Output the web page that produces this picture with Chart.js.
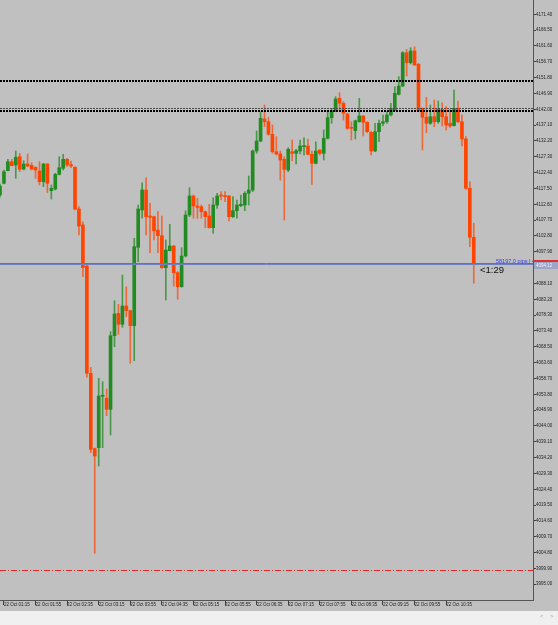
<!DOCTYPE html>
<html>
<head>
<meta charset="utf-8">
<script src="https://cdn.jsdelivr.net/npm/chart.js@4.4.1/dist/chart.umd.min.js"></script>
<style>
  html, body { margin: 0; padding: 0; background: #c0c0c0; }
  #chart { display: block; }
</style>
</head>
<body>
<canvas id="chart" width="558" height="625"></canvas>
<script>
// 5 minute candles, the first one is 22 Oct 01:10
const opens = [
  4115.48, 4119.10, 4123.00, 4125.78, 4124.76, 4127.33, 4123.52, 4125.07, 4124.67, 4124.05,
  4122.91, 4119.59, 4125.07, 4116.81, 4117.33, 4121.88, 4123.74, 4126.53, 4124.86, 4124.05,
  4111.14, 4106.19, 4093.50, 4060.29, 4036.96, 4037.27, 4053.18, 4052.56, 4049.15, 4071.93,
  4078.86, 4075.46, 4081.12, 4079.67, 4075.03, 4099.29, 4110.83, 4117.02, 4108.98, 4108.76,
  4104.64, 4102.88, 4092.98, 4098.24, 4099.69, 4091.43, 4087.10, 4096.60, 4109.29, 4115.17,
  4112.07, 4111.86, 4110.31, 4108.98, 4105.36, 4112.38, 4115.48, 4115.17, 4115.17, 4108.76,
  4110.62, 4112.17, 4112.38, 4116.00, 4117.02, 4129.10, 4132.19, 4139.00, 4138.16, 4134.26,
  4128.88, 4128.17, 4126.53, 4123.21, 4128.88, 4128.38, 4129.10, 4130.43, 4130.64, 4128.07,
  4125.29, 4129.40, 4128.38, 4133.03, 4139.40, 4141.48, 4145.41, 4143.86, 4140.55, 4136.43,
  4135.38, 4138.16, 4139.93, 4137.98, 4134.88, 4129.10, 4135.07, 4137.67, 4138.16, 4140.24,
  4141.78, 4146.64, 4149.21, 4159.52, 4156.42, 4160.05, 4155.93, 4142.31, 4139.53, 4137.67,
  4139.71, 4138.16, 4142.00, 4139.71, 4137.67, 4136.93, 4142.31, 4138.16, 4132.81, 4117.55,
  4102.39
];
const highs = [
  4118.88, 4123.21, 4126.53, 4126.53, 4129.10, 4128.38, 4126.09, 4128.17, 4125.47, 4124.24,
  4125.78, 4125.29, 4125.20, 4118.57, 4122.19, 4127.33, 4128.07, 4126.84, 4126.00, 4124.24,
  4111.86, 4107.21, 4093.81, 4062.15, 4037.17, 4058.75, 4057.69, 4055.43, 4073.17, 4082.76,
  4081.65, 4090.72, 4087.10, 4079.88, 4102.08, 4112.38, 4119.28, 4120.83, 4112.91, 4108.98,
  4110.31, 4108.98, 4101.55, 4106.41, 4099.90, 4091.74, 4099.17, 4110.62, 4117.74, 4115.48,
  4114.46, 4112.38, 4110.53, 4112.60, 4114.64, 4116.00, 4116.50, 4116.50, 4115.30, 4114.95,
  4113.93, 4115.48, 4116.50, 4121.36, 4129.40, 4135.29, 4141.26, 4143.33, 4139.53, 4137.14,
  4133.52, 4129.10, 4127.33, 4130.12, 4132.50, 4129.62, 4132.50, 4133.21, 4132.72, 4129.10,
  4131.97, 4129.50, 4135.59, 4141.57, 4142.31, 4145.90, 4147.14, 4144.35, 4140.76, 4138.16,
  4138.69, 4145.41, 4140.05, 4138.16, 4135.07, 4137.67, 4138.69, 4140.24, 4141.26, 4143.86,
  4149.00, 4152.09, 4159.83, 4160.57, 4161.07, 4161.38, 4156.24, 4142.45, 4145.72, 4143.33,
  4144.88, 4144.57, 4144.04, 4142.81, 4142.00, 4147.97, 4144.57, 4140.24, 4133.52, 4119.59,
  4106.72
];
const lows = [
  4114.86, 4118.88, 4122.91, 4124.45, 4120.65, 4122.69, 4123.21, 4124.24, 4123.21, 4120.65,
  4118.57, 4118.05, 4116.19, 4114.24, 4117.02, 4121.67, 4123.21, 4124.24, 4123.93, 4110.83,
  4103.10, 4090.19, 4059.06, 4035.72, 4004.58, 4031.60, 4037.27, 4047.17, 4041.20, 4068.53,
  4072.36, 4074.53, 4077.81, 4063.39, 4064.19, 4094.83, 4108.27, 4103.10, 4097.62, 4101.55,
  4097.62, 4092.79, 4082.98, 4098.15, 4087.31, 4083.20, 4086.91, 4096.29, 4108.76, 4108.27,
  4108.27, 4108.27, 4105.36, 4105.20, 4103.62, 4111.36, 4113.93, 4113.40, 4107.43, 4108.45,
  4108.27, 4111.86, 4110.62, 4112.38, 4116.50, 4128.38, 4131.97, 4136.62, 4134.05, 4128.38,
  4127.86, 4120.12, 4107.74, 4122.69, 4126.09, 4125.07, 4128.17, 4127.86, 4127.86, 4118.79,
  4125.07, 4127.86, 4126.31, 4132.81, 4137.67, 4141.26, 4141.78, 4138.69, 4135.81, 4132.50,
  4132.81, 4138.00, 4133.74, 4134.76, 4127.86, 4128.88, 4131.97, 4136.83, 4137.67, 4139.93,
  4141.57, 4146.43, 4149.00, 4152.31, 4156.02, 4155.60, 4141.26, 4129.40, 4134.76, 4137.36,
  4136.62, 4137.67, 4136.83, 4135.59, 4136.43, 4136.83, 4137.85, 4130.64, 4117.24, 4099.48,
  4088.15
];
const closes = [
  4118.26, 4122.69, 4125.78, 4124.55, 4127.15, 4123.43, 4125.07, 4124.45, 4123.52, 4123.21,
  4119.59, 4125.07, 4119.10, 4117.55, 4121.88, 4123.93, 4126.53, 4124.76, 4124.45, 4111.14,
  4105.88, 4092.98, 4060.29, 4036.77, 4034.70, 4053.27, 4053.36, 4049.15, 4071.93, 4078.65,
  4075.46, 4081.12, 4079.67, 4075.03, 4099.48, 4111.14, 4117.02, 4108.76, 4108.58, 4104.43,
  4102.88, 4092.98, 4098.45, 4099.69, 4091.43, 4087.10, 4096.60, 4109.29, 4115.17, 4112.07,
  4111.67, 4110.31, 4108.76, 4105.36, 4112.38, 4115.17, 4115.17, 4114.95, 4108.76, 4110.62,
  4112.38, 4112.60, 4116.00, 4117.02, 4129.10, 4132.19, 4139.22, 4138.16, 4134.26, 4128.88,
  4128.17, 4126.31, 4123.43, 4129.62, 4128.38, 4129.19, 4130.64, 4130.64, 4128.07, 4125.29,
  4129.10, 4128.38, 4133.03, 4139.40, 4141.48, 4145.19, 4143.86, 4140.76, 4136.12, 4136.12,
  4138.47, 4139.93, 4137.98, 4135.07, 4129.10, 4135.07, 4137.67, 4138.16, 4140.24, 4142.31,
  4146.95, 4149.21, 4159.52, 4156.42, 4160.05, 4155.71, 4141.48, 4139.53, 4137.67, 4139.71,
  4138.16, 4142.00, 4139.71, 4137.14, 4136.83, 4142.31, 4138.16, 4132.81, 4117.55, 4102.39,
  4094.12
];

// empty bars kept free on the right (chart shift)
const emptySlots = 15;

const timeLabels = [
  '22 Oct 01:15', '22 Oct 01:55', '22 Oct 02:35', '22 Oct 03:15', '22 Oct 03:55',
  '22 Oct 04:35', '22 Oct 05:15', '22 Oct 05:55', '22 Oct 06:35', '22 Oct 07:15',
  '22 Oct 07:55', '22 Oct 08:35', '22 Oct 09:15', '22 Oct 09:55', '22 Oct 10:35'
];
const priceTicks = [
  3995.00, 3999.90, 4004.80, 4009.70, 4014.60, 4019.50, 4024.40, 4029.30, 4034.20, 4039.10,
  4044.00, 4048.90, 4053.80, 4058.70, 4063.60, 4068.50, 4073.40, 4078.30, 4083.20, 4088.10,
  4093.00, 4097.90, 4102.80, 4107.70, 4112.60, 4117.50, 4122.40, 4127.30, 4132.20, 4137.10,
  4142.00, 4146.90, 4151.80, 4156.70, 4161.60, 4166.50, 4171.40
];
const priceMin = 3990.13;
const priceMax = 4175.83;

// horizontal lines drawn on the chart
const thickDotLevel = 4150.76;
const doubleLevels = [4142.25, 4141.47];
const dashDotLevel = 3999.41;
const askLevel = 4094.28;
const bidLevel = 4094.00;
const infoText = '58197.0 pips | 4';
const timerText = '<1:29';

const bullColor = '#228B22';
const bearColor = '#FF4500';

const n = opens.length + emptySlots;
const labels = [];
for (let i = 0; i < n; i++) {
    const k = (i - 1) / 8;
    labels.push(Number.isInteger(k) && k >= 0 && k < timeLabels.length ? timeLabels[k] : '');
}
const bodies = opens.map((o, i) => [o, closes[i]]);
const wicks = lows.map((l, i) => [l, highs[i]]);
const isUp = i => closes[i] >= opens[i];

// background, bottom strip
const backPlugin = {
    id: 'back',
    beforeDraw(chart) {
        const ctx = chart.ctx;
        ctx.save();
        ctx.fillStyle = '#c0c0c0';
        ctx.fillRect(0, 0, chart.width, chart.height);
        ctx.fillStyle = '#f0f0f0';
        ctx.fillRect(0, 611, chart.width, chart.height - 611);
        ctx.fillStyle = '#a8a8a8';
        ctx.font = '6px "Liberation Sans"';
        ctx.textBaseline = 'middle';
        ctx.fillText('<', 540, 616);
        ctx.fillText('>', 550, 616);
        ctx.restore();
    }
};

// levels, price line and texts
const linesPlugin = {
    id: 'lines',
    afterDraw(chart) {
        const ctx = chart.ctx;
        const y = chart.scales.y;
        const area = chart.chartArea;
        const py = v => Math.round(y.getPixelForValue(v));

        function hline(v, color, width, dash, off) {
            const p = py(v) + off;
            ctx.save();
            ctx.beginPath();
            ctx.strokeStyle = color;
            ctx.lineWidth = width;
            ctx.setLineDash(dash);
            ctx.moveTo(area.left, p);
            ctx.lineTo(area.right, p);
            ctx.stroke();
            ctx.restore();
        }

        hline(thickDotLevel, '#000000', 2, [2, 1], 0);
        hline(doubleLevels[0], '#4a4a4a', 1, [2, 1], 0.5);
        hline(doubleLevels[1], '#000000', 2, [2, 1], 0);
        hline(dashDotLevel, '#e02828', 1, [6, 2, 1, 2], 0.5);
        hline(bidLevel, '#7080c0', 1, [], 0.5);
        hline(askLevel, '#e04848', 1, [], 0.5);

        // info text on the ask line, cut at the axis
        ctx.save();
        ctx.beginPath();
        ctx.rect(area.left, area.top, area.right - area.left, area.bottom - area.top);
        ctx.clip();
        ctx.fillStyle = '#3a3aee';
        ctx.font = '5.5px "Liberation Sans"';
        ctx.textBaseline = 'middle';
        ctx.fillText(infoText, 496, py(askLevel) - 2);
        ctx.restore();

        // bar timer
        ctx.save();
        ctx.fillStyle = '#111111';
        ctx.font = '9.5px "Liberation Sans"';
        ctx.textBaseline = 'middle';
        ctx.fillText(timerText, 480, py(bidLevel) + 6);
        ctx.restore();

        // price box on the axis
        const last = closes[closes.length - 1];
        const pb = py(last);
        ctx.save();
        ctx.fillStyle = '#9ea6c6';
        ctx.fillRect(area.right + 1, pb - 2, chart.width - area.right - 1, 7);
        ctx.fillStyle = '#e03030';
        ctx.fillRect(area.right + 1, pb - 4, chart.width - area.right - 1, 2);
        ctx.fillStyle = '#eef0f8';
        ctx.font = '4.5px "Liberation Sans"';
        ctx.textBaseline = 'middle';
        ctx.fillText(last.toFixed(2), area.right + 3, pb + 1.5);
        ctx.restore();
    }
};

const ctx = document.getElementById('chart').getContext('2d');
new Chart(ctx, {
    type: 'bar',
    data: {
        labels: labels,
        datasets: [
            {
                label: 'body',
                data: bodies,
                order: 0,
                grouped: false,
                barThickness: 3,
                minBarLength: 1,
                borderWidth: 0,
                backgroundColor: c => isUp(c.dataIndex) ? bullColor : bearColor
            },
            {
                label: 'wick',
                data: wicks,
                order: 1,
                grouped: false,
                barThickness: 1,
                borderWidth: 0,
                backgroundColor: c => isUp(c.dataIndex) ? 'rgba(34,139,34,0.75)' : 'rgba(255,69,0,0.7)'
            }
        ]
    },
    options: {
        responsive: false,
        animation: false,
        layout: { padding: { left: 0, top: 0, right: 0, bottom: 14 } },
        plugins: {
            legend: { display: false },
            tooltip: { enabled: false }
        },
        scales: {
            x: {
                type: 'category',
                offset: false,
                grid: {
                    offset: false,
                    drawOnChartArea: false,
                    drawTicks: true,
                    tickLength: 5,
                    tickColor: c => (c.tick && c.tick.label) ? '#404040' : 'rgba(0,0,0,0)'
                },
                border: { display: true, color: '#555555', width: 1 },
                ticks: {
                    autoSkip: false,
                    maxRotation: 0,
                    minRotation: 0,
                    align: 'start',
                    padding: -2.7,
                    color: '#202020',
                    font: { family: 'Liberation Sans', size: 4.5 }
                },
                afterFit(s) {
                    s.height = 11;
                    s.paddingLeft = 0;
                    s.paddingRight = 0;
                }
            },
            y: {
                position: 'right',
                min: priceMin,
                max: priceMax,
                grid: {
                    drawOnChartArea: false,
                    drawTicks: true,
                    tickLength: 3,
                    tickColor: '#404040'
                },
                border: { display: true, color: '#555555', width: 1 },
                afterBuildTicks(s) {
                    s.ticks = priceTicks.map(v => ({ value: v }));
                },
                ticks: {
                    autoSkip: false,
                    padding: 0,
                    color: '#202020',
                    font: { family: 'Liberation Sans', size: 4.5 },
                    callback: v => Number(v).toFixed(2)
                },
                afterFit(s) {
                    s.width = 25;
                    s.paddingTop = 0;
                    s.paddingBottom = 0;
                }
            }
        }
    },
    plugins: [backPlugin, linesPlugin]
});
</script>
</body>
</html>
